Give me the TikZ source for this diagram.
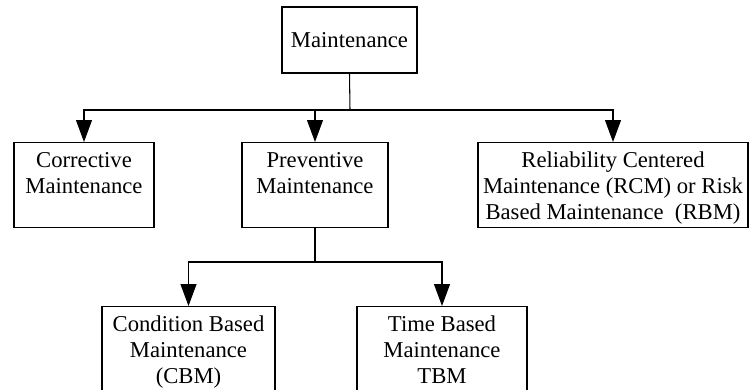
\documentclass[tikz,border=0pt]{standalone}
\usepackage{fontspec}
\setmainfont{Liberation Serif}
\usetikzlibrary{arrows.meta}
\newcommand{\topstrut}{\rule{0pt}{13.5pt}}
\newcommand{\botstrut}{\rule[-4pt]{0pt}{4pt}}

\begin{document}
\begin{tikzpicture}[x=0.02cm, y=-0.02cm,
	box/.style={draw, line width=0.85pt, align=center, inner sep=0.5pt,
		font=\fontsize{12.9}{14.8}\selectfont},
	conn/.style={line width=0.6pt, -{Triangle[length=4.4mm,width=3.2mm]}}]

	\useasboundingbox (0,0) rectangle (750,389);
	\clip (0,0) rectangle (750,389);

	\node (M)[box, minimum width=2.7cm, minimum height=1.32cm] at (349.5,40) {Maintenance};

	\node (CM)[box, minimum width=2.8cm, minimum height=1.68cm] at (84,185) {\topstrut Corrective\\Maintenance\\\botstrut};
	\node (PM)[box, minimum width=2.92cm, minimum height=1.68cm] at (315,185) {\topstrut Preventive\\Maintenance\\\botstrut};
	\node (RM)[box, minimum width=5.4cm, minimum height=1.68cm] at (613,185) {\topstrut Reliability Centered\\Maintenance (RCM) or Risk\\Based Maintenance\ \ (RBM)\botstrut};

	\node (CBM)[box, minimum width=3.46cm, minimum height=1.68cm] at (188.5,349) {\topstrut Condition Based\\Maintenance\\(CBM)\botstrut};
	\node (TBM)[box, minimum width=3.4cm, minimum height=1.68cm] at (442,349) {\topstrut Time Based\\Maintenance\\TBM\botstrut};

	\coordinate (bus1) at (350,110);
	\coordinate (bus2) at (315,262);

	\draw [line width=0.6pt] (M.south) -- (bus1);
	\draw [conn] (bus1) -| (CM.north);
	\draw [conn] (bus1) -| (PM.north);
	\draw [conn] (bus1) -| (RM.north);

	\draw [line width=0.6pt] (PM.south) -- (bus2);
	\draw [conn] (bus2) -| (CBM.north);
	\draw [conn] (bus2) -| (TBM.north);

\end{tikzpicture}
\end{document}
